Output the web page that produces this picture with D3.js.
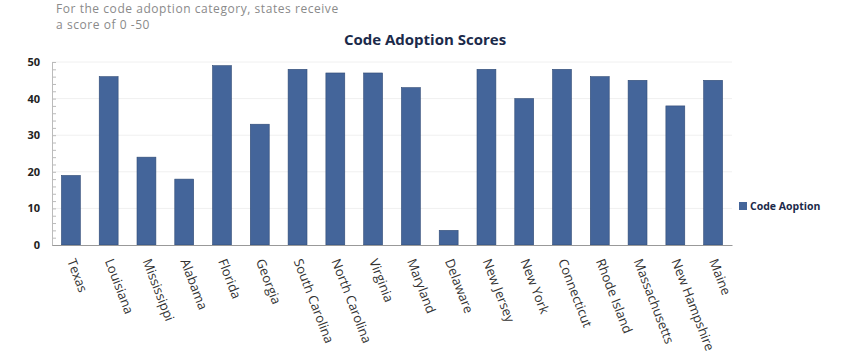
<!DOCTYPE html>
<html>
<head>
<meta charset="utf-8">
<script src="https://cdn.jsdelivr.net/npm/d3@7"></script>
<style>
  body { margin: 0; background: #fff; }
  text { font-family: "Open Sans", "Noto Sans", sans-serif; }
</style>
</head>
<body>
<div id="chart"></div>
<script>
const width = 850;
const height = 359;

// data
const states = ["Texas", "Louisiana", "Mississippi", "Alabama", "Florida", "Georgia",
  "South Carolina", "North Carolina", "Virginia", "Maryland", "Delaware", "New Jersey",
  "New York", "Connecticut", "Rhode Island", "Massachusetts", "New Hampshire", "Maine"];
const scores = [19, 46, 24, 18, 49, 33, 48, 47, 47, 43, 4, 48, 40, 48, 46, 45, 38, 45];
const yTicks = [0, 10, 20, 30, 40, 50];
const seriesName = "Code Aoption";

const margin = { left: 52, right: 118, top: 62, bottom: 114 };
const barColor = "#44659a";

const svg = d3.select("#chart").append("svg")
  .attr("width", width)
  .attr("height", height);

const x = d3.scaleBand()
  .domain(states)
  .range([margin.left, width - margin.right])
  .paddingInner(0.5)
  .paddingOuter(0.25);

const y = d3.scaleLinear()
  .domain([0, 50])
  .range([height - margin.bottom, margin.top]);

// subtitle, two lines
const subLines = ["For the code adoption category, states receive", "a score of 0 -50"];
svg.append("g")
  .selectAll("text")
  .data(subLines)
  .join("text")
  .attr("x", 56)
  .attr("y", (d, i) => 13 + i * 16)
  .attr("fill", "#8a8a8a")
  .attr("font-size", "12px")
  .attr("letter-spacing", "0.55px")
  .text(d => d);

// title
svg.append("text")
  .attr("x", 425).attr("y", 45)
  .attr("text-anchor", "middle")
  .attr("font-size", "15px")
  .attr("font-weight", "bold")
  .attr("fill", "#1b2a4a")
  .text("Code Adoption Scores");

// gridlines
svg.append("g")
  .selectAll("line")
  .data(yTicks.slice(1))
  .join("line")
  .attr("x1", margin.left).attr("x2", width - margin.right)
  .attr("y1", d => y(d)).attr("y2", d => y(d))
  .attr("stroke", "#f0f0f0");

// minor ticks on y axis
svg.append("g")
  .attr("transform", `translate(${margin.left},0)`)
  .call(d3.axisLeft(y).ticks(25).tickSize(-4).tickFormat(""))
  .call(g => g.select(".domain").remove())
  .call(g => g.selectAll("line").attr("stroke", "#bbb"));

// y axis
const yAxis = svg.append("g")
  .attr("transform", `translate(${margin.left},0)`)
  .call(d3.axisLeft(y).tickValues(yTicks).tickSize(0).tickPadding(12));
yAxis.select(".domain").attr("stroke", "#bbb");
yAxis.selectAll("text")
  .attr("font-size", "11px")
  .attr("font-weight", "bold")
  .attr("fill", "#222");

// bars
svg.append("g")
  .selectAll("rect")
  .data(states)
  .join("rect")
  .attr("x", d => x(d))
  .attr("y", (d, i) => y(scores[i]))
  .attr("width", x.bandwidth())
  .attr("height", (d, i) => y(0) - y(scores[i]))
  .attr("fill", barColor)
  .attr("stroke", "#2f4a75")
  .attr("stroke-width", 0.6);

// x axis
const xAxis = svg.append("g")
  .attr("transform", `translate(0,${y(0)})`)
  .call(d3.axisBottom(x).tickSize(0).tickPadding(0));
xAxis.select(".domain").attr("stroke", "#999");
xAxis.selectAll("text")
  .attr("font-size", "13px")
  .attr("fill", "#333")
  .attr("text-anchor", "start")
  .attr("dy", "0")
  .attr("transform", "translate(-4,16) rotate(69)");

// legend
const lg = svg.append("g").attr("transform", "translate(739,206)");
lg.append("rect").attr("x", 0).attr("y", -4).attr("width", 8).attr("height", 8).attr("fill", barColor);
lg.append("text")
  .attr("x", 11).attr("y", 4)
  .attr("font-size", "10.5px")
  .attr("font-weight", "bold")
  .attr("fill", "#1b2a4a")
  .text(seriesName);
</script>
</body>
</html>
